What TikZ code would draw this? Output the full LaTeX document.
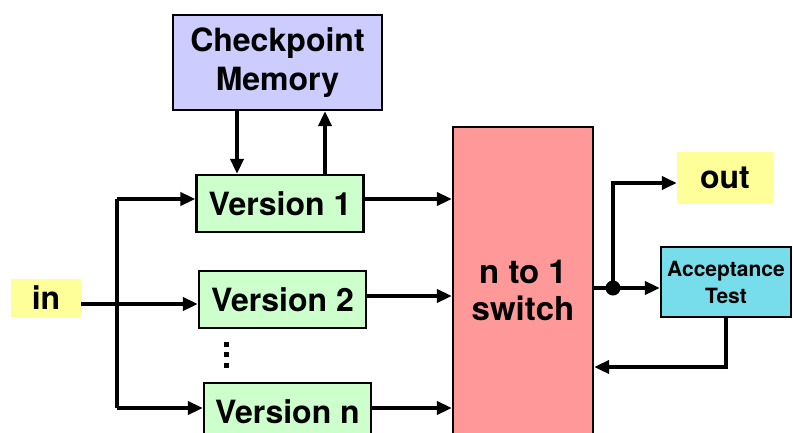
\documentclass[tikz,border=0pt]{standalone}
\usepackage{fontspec}
\setmainfont{TeX Gyre Heros}
\usetikzlibrary{positioning,arrows.meta}
\definecolor{memblue}{HTML}{CCCCFF}
\definecolor{vergreen}{HTML}{CCFFCC}
\definecolor{swred}{HTML}{FF9999}
\definecolor{ioyellow}{HTML}{FFFF99}
\definecolor{accyan}{HTML}{77DDEA}

\begin{document}
\begin{tikzpicture}[x=1pt,y=-1pt,>={Triangle[length=15pt,width=13pt]}]
  \tikzset{block/.style={draw,line width=2.2pt,rectangle,inner sep=0pt,align=center},
    version/.style={block,fill=vergreen,minimum width=167pt,minimum height=57pt,
      font=\bfseries\fontsize{32}{38}\selectfont},
    port/.style={rectangle,fill=ioyellow,inner sep=0pt,
      font=\bfseries\fontsize{32}{38}\selectfont},
    wire/.style={line width=3.6pt},
    bigwire/.style={line width=4.4pt}}
  \useasboundingbox (0,0) rectangle (793,432);
  \clip (0,0) rectangle (793,432);
  % blocks
  \node[block,fill=memblue,minimum width=209pt,minimum height=95pt,
    font=\bfseries\fontsize{32}{39}\selectfont] (cpm) at (277.5,62.5) {Checkpoint\\Memory};
  \node[version] (v1) at (280,203.5) {Version 1};
  \node[version] (v2) at (282.5,299.5) {Version 2};
  \node[version] (vn) at (287.5,411.5) {Version n};
  \node[port,minimum width=70pt,minimum height=38pt] (in) at (46,298) {in};
  \node[block,fill=swred,minimum width=140pt,minimum height=326pt,
    font=\bfseries\fontsize{33}{37}\selectfont] (sw) at (523,290) {n to 1\\switch};
  \node[port,minimum width=96pt,minimum height=52pt] (out) at (725,178) {out};
  \node[block,fill=accyan,minimum width=130pt,minimum height=70pt,
    font=\bfseries\fontsize{21}{27}\selectfont] (at) at (726,282) {Acceptance\\Test};
  % the skipped versions
  \foreach \y in {344.5,354.5,365}
    \fill (224,\y-2.5) rectangle (229,\y+2.5);
  % input bus
  \coordinate (bus1) at (117,199);
  \coordinate (bus2) at (117,304);
  \coordinate (busn) at (117,408);
  \draw[wire] (bus1) -- (busn);
  \draw[wire,->] (bus1) -- (bus1 -| v1.west);
  \draw[wire,->] (bus2 -| in.east) -- (bus2 -| v2.west);
  \draw[wire,->] (busn) -- (busn -| vn.west);
  % checkpoint traffic
  \draw[wire,->] ([xshift=-40.5pt]cpm.south) -- ([xshift=-40.5pt]cpm.south |- v1.north);
  \draw[wire,->] ([xshift=47.5pt]cpm.south |- v1.north) -- ([xshift=47.5pt]cpm.south);
  % versions into the switch
  \draw[wire,->] (v1.east |- bus1) -- (bus1 -| sw.west);
  \draw[wire,->] ([yshift=3.5pt]v2.east) -- ([yshift=3.5pt]v2.east -| sw.west);
  \draw[wire,->] (vn.east |- busn) -- (busn -| sw.west);
  % output side
  \coordinate (tap) at (613,288);
  \coordinate (ret) at (0,367);
  \draw[bigwire] (sw.east |- tap) -- (tap);
  \draw[bigwire,->] (tap) -- (tap -| at.west);
  \draw[bigwire,->] (tap) |- ([yshift=-5pt]out.west);
  \draw[bigwire,->] (at.south) |- (sw.east |- ret);
  \fill (tap) circle (7.5pt);
\end{tikzpicture}
\end{document}
